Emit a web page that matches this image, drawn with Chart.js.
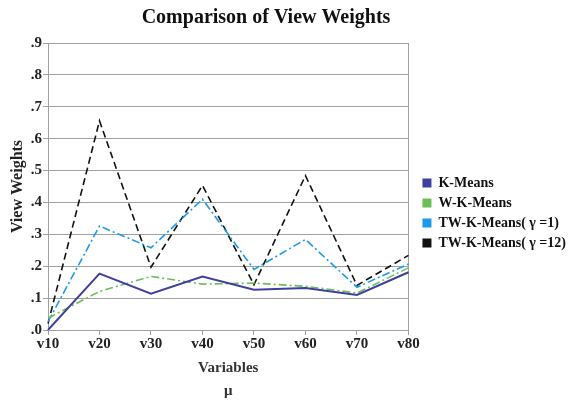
<!DOCTYPE html>
<html>
<head>
<meta charset="utf-8">
<script src="https://cdn.jsdelivr.net/npm/chart.js@4"></script>
<style>
  html, body { margin: 0; padding: 0; background: #fff; }
  #wrap { width: 576px; height: 403px; }
</style>
</head>
<body>
<div id="wrap"><canvas id="myChart"></canvas></div>
<script>
const labels = ["v10", "v20", "v30", "v40", "v50", "v60", "v70", "v80"];
const kMeans = [0.0, 0.177, 0.114, 0.168, 0.126, 0.132, 0.110, 0.181];
const wkMeans = [0.037, 0.121, 0.168, 0.144, 0.147, 0.137, 0.116, 0.195];
const twkMeans1 = [0.026, 0.326, 0.258, 0.410, 0.190, 0.284, 0.134, 0.207];
const twkMeans12 = [0.02, 0.656, 0.197, 0.453, 0.142, 0.484, 0.140, 0.234];

const serif = "'Liberation Serif', 'Times New Roman', serif";
const gridGray = "#a0a0a0";

// titre dessiné à la main pour le placer comme sur l'original
const titlePlugin = {
    id: "titleText",
    afterDraw(chart) {
        const c = chart.ctx;
        c.save();
        c.font = "bold 20px " + serif;
        c.fillStyle = "#111";
        c.textAlign = "center";
        c.textBaseline = "middle";
        c.fillText("Comparison of View Weights", 266, 18);
        c.restore();
    },
};

const line = (label, values, color, dash, width) => ({
    label: label,
    data: values,
    borderColor: color,
    backgroundColor: color,
    borderDash: dash,
    borderWidth: width,
    pointRadius: 0,
    tension: 0,
});

const data = {
    labels: labels,
    datasets: [
        line("K-Means", kMeans, "#3f3f9f", [], 2),
        line("W-K-Means", wkMeans, "#6cbf58", [8, 3, 2, 3], 1.6),
        line("TW-K-Means( γ =1)", twkMeans1, "#1e9be8", [8, 3, 2, 3], 1.6),
        line("TW-K-Means( γ =12)", twkMeans12, "#111111", [7, 4], 1.6),
    ],
};

const config = {
    type: "line",
    data,
    plugins: [titlePlugin],
    options: {
        responsive: true,
        maintainAspectRatio: false,
        animation: false,
        layout: {
            padding: { top: 43, right: 0, bottom: 0, left: 0 },
        },
        plugins: {
            legend: {
                position: "right",
                align: "start",
                maxWidth: 171,
                title: {
                    display: true,
                    text: " ",
                    padding: { top: 115, bottom: 0 },
                    font: { size: 10 },
                },
                labels: {
                    color: "#111",
                    boxWidth: 9,
                    boxHeight: 9,
                    padding: 6,
                    font: { family: serif, size: 14, weight: "bold" },
                    generateLabels: (chart) =>
                        chart.data.datasets.map((ds, i) => ({
                            text: ds.label,
                            fillStyle: ds.borderColor,
                            strokeStyle: ds.borderColor,
                            lineWidth: 0,
                            lineDash: [],
                            fontColor: "#111",
                            datasetIndex: i,
                            hidden: false,
                        })),
                },
            },
            tooltip: { enabled: false },
        },
        scales: {
            x: {
                offset: false,
                grid: {
                    drawOnChartArea: false,
                    drawTicks: true,
                    tickLength: 5,
                    color: gridGray,
                },
                border: { color: gridGray },
                ticks: {
                    color: "#222",
                    padding: 0,
                    font: { family: serif, size: 15, weight: "bold" },
                },
                title: {
                    display: true,
                    text: ["Variables", "μ"],
                    color: "#333",
                    padding: { top: 6, bottom: 0 },
                    font: { family: serif, size: 15, weight: "bold", lineHeight: 1.55 },
                },
                afterFit: (s) => { s.height = 73; },
            },
            y: {
                min: 0,
                max: 0.9,
                ticks: {
                    stepSize: 0.1,
                    color: "#222",
                    padding: 1,
                    font: { family: serif, size: 15, weight: "bold" },
                    callback: (v) => v.toFixed(1).replace(/^0/, ""),
                },
                grid: {
                    color: gridGray,
                    tickLength: 5,
                },
                border: { color: gridGray },
                title: {
                    display: true,
                    text: "View Weights",
                    color: "#222",
                    padding: { top: 8, bottom: 0 },
                    font: { family: serif, size: 16, weight: "bold" },
                },
                afterFit: (s) => { s.width = 48; },
            },
            y2: {
                position: "right",
                min: 0,
                max: 0.9,
                ticks: { display: false },
                grid: { drawOnChartArea: false, drawTicks: false },
                border: { color: gridGray },
                afterFit: (s) => { s.width = 8; },
            },
        },
    },
};

const ctx = document.getElementById("myChart").getContext("2d");
const chart = new Chart(ctx, config);
</script>
</body>
</html>
